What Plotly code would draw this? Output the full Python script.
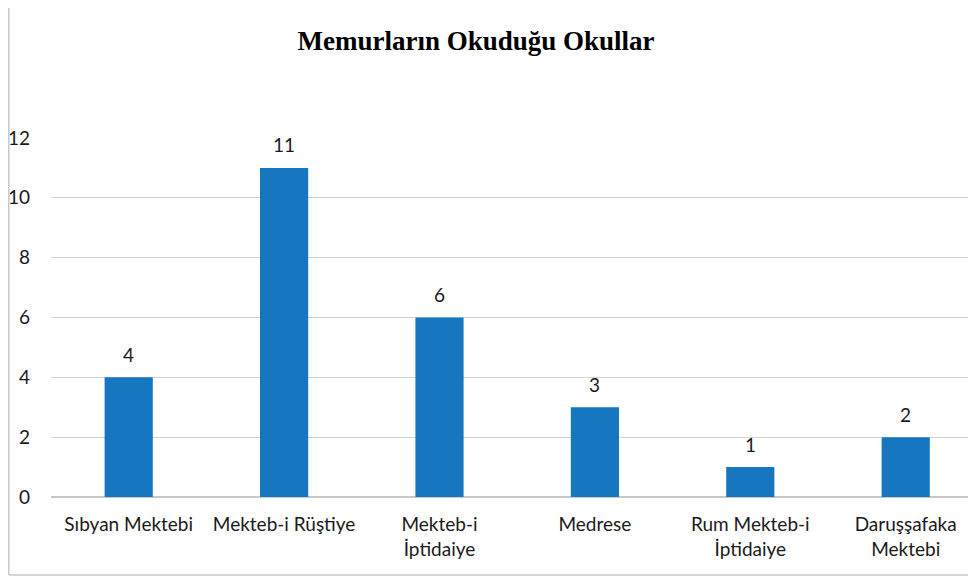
import plotly.graph_objects as go

categories = ["Sıbyan Mektebi", "Mekteb-i Rüştiye", "Mekteb-i<br>İptidaiye", "Medrese",
              "Rum Mekteb-i<br>İptidaiye", "Daruşşafaka<br>Mektebi"]
values = [4, 11, 6, 3, 1, 2]
y_ticks = [0, 2, 4, 6, 8, 10, 12]
title_text = "Memurların Okuduğu Okullar"

# page body has an 8px margin; figure is sized/positioned to compensate
OFF = 8
W, H = 976 - OFF, 577 - OFF
L, R, T, B = 51 - OFF, 0, 138 - OFF, 80
pw, ph = W - L - R, H - T - B

bar_color = "#1776c0"
label_font = dict(family="Lato, Open Sans, sans-serif", size=19, color="#1a1a1a")

fig = go.Figure()
fig.add_trace(go.Bar(x=list(range(len(categories))), y=values, marker_color=bar_color,
                     marker_line_width=0, width=0.31, showlegend=False, hoverinfo="skip"))

annotations = []
for i, v in enumerate(values):
    annotations.append(dict(x=i, y=v, xref="x", yref="y", text=str(v), showarrow=False,
                            yshift=23, font=label_font))

def px_x(px):
    return (px - L) / pw

def px_y(py):
    return (H - B - py) / ph

shapes = [
    dict(type="line", xref="paper", yref="paper", x0=px_x(0.8), x1=px_x(0.8), y0=px_y(567), y1=px_y(-5),
         line=dict(color="#c8c8c8", width=1.5)),
    dict(type="line", xref="paper", yref="paper", x0=px_x(0.8), x1=px_x(980), y0=px_y(567), y1=px_y(567),
         line=dict(color="#c8c8c8", width=1.5)),
]

fig.update_layout(
    width=W, height=H,
    margin=dict(l=L, r=R, t=T, b=B),
    paper_bgcolor="white", plot_bgcolor="white",
    title=dict(text="<b>" + title_text + "</b>", x=(476 - OFF) / W, xanchor="center",
               y=1 - (41 - OFF) / H, yanchor="middle",
               font=dict(family="Liberation Serif, Times New Roman, serif", size=27, color="black")),
    xaxis=dict(range=[-0.5, -0.5 + pw / 155.4], tickmode="array", tickvals=list(range(len(categories))),
               ticktext=categories, showgrid=False, zeroline=False, showline=False, ticks="",
               tickfont=label_font, ticklabelstandoff=14, fixedrange=True),
    yaxis=dict(range=[0, 12], tickmode="array", tickvals=y_ticks, ticktext=[str(t) for t in y_ticks],
               showgrid=True, gridcolor="#d4d4d4", gridwidth=1, zeroline=True, zerolinecolor="#c8c8c8",
               zerolinewidth=1.5, showline=False, ticks="", tickfont=label_font, ticklabelstandoff=20),
    annotations=annotations,
    shapes=shapes,
    bargap=0.69,
)

fig.write_html("out.html")
